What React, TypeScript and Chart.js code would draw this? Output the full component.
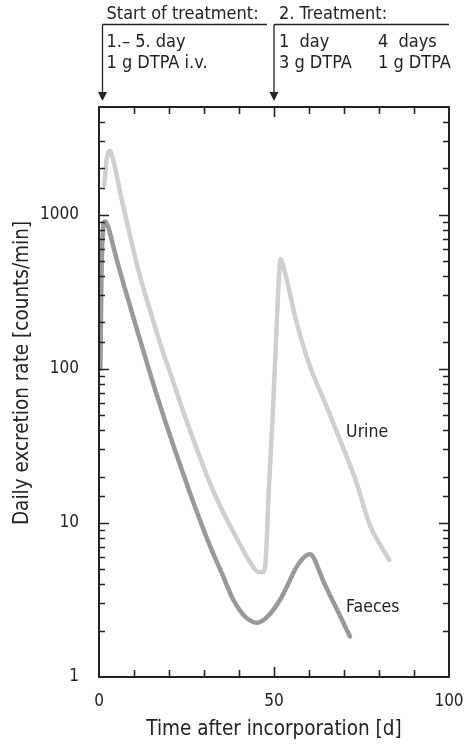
import React, { useEffect, useRef } from "react";
import { Chart, registerables } from "chart.js";

Chart.register(...registerables);

// Urine excretion rate (counts/min) vs time (days)
const urineDays = [1.5, 2.2, 3.1, 4.09, 6.49, 9.0, 11.71, 14.57, 17.43, 21.0, 24.57, 28.0, 31.7, 35.5, 39.3, 43.1, 45.5, 46.8, 47.5, 48.5, 49.6, 50.6, 51.2, 51.9, 52.7, 56.5, 60.3, 65.06, 68.86, 73.63, 77.43, 80.2, 82.94];
const urineRate = [1550, 2300, 2600, 2250, 1250, 705, 398, 240, 147, 85, 49, 30, 18.1, 11.7, 8.0, 5.6, 4.8, 4.8, 5.3, 16, 49, 155, 320, 515, 460, 198, 103.5, 56.9, 34.6, 18.1, 9.6, 7.3, 5.75];

// Faeces excretion rate (counts/min) vs time (days)
const faecesDays = [0.4, 0.7, 1.2, 1.7, 2.4, 3.14, 4.57, 6.95, 11.7, 16.0, 20.0, 24.1, 27.5, 31.7, 35.0, 38.4, 41.0, 43.0, 45.0, 48.0, 51.7, 54.0, 56.5, 59.0, 60.3, 61.3, 62.3, 64.1, 67.9, 71.7];
const faecesRate = [100, 400, 820, 905, 860, 760, 564, 360, 155, 73.6, 38.6, 20.7, 12.6, 7.1, 4.77, 3.16, 2.57, 2.34, 2.25, 2.45, 3.16, 4.0, 5.2, 6.1, 6.25, 5.95, 5.3, 4.19, 2.77, 1.83];

const xTickLabels = [0, 50, 100];
const yTickLabels = [1, 10, 100, 1000];

const FONT = "'Liberation Sans Narrow', 'DejaVu Sans Condensed', 'Liberation Sans', sans-serif";
const INK = "#222";

const decorPlugin = {
  id: "decor",
  afterDraw(chart: any) {
    const { ctx, chartArea: a, scales } = chart;
    const xs = scales.x;
    const ys = scales.y;
    ctx.save();
    // frame
    ctx.strokeStyle = INK;
    ctx.lineWidth = 2;
    ctx.strokeRect(a.left, a.top, a.right - a.left, a.bottom - a.top);
    // x ticks (inward, top & bottom)
    ctx.lineWidth = 1.6;
    xs.ticks.forEach((t: any) => {
      const v = t.value;
      if (v <= 0 || v >= 100) return;
      const px = Math.round(xs.getPixelForValue(v)) + 0.5;
      const len = v % 50 === 0 ? 10 : 7;
      ctx.beginPath();
      ctx.moveTo(px, a.bottom);
      ctx.lineTo(px, a.bottom - len);
      ctx.moveTo(px, a.top);
      ctx.lineTo(px, a.top + len);
      ctx.stroke();
    });
    // y ticks (inward, left & right)
    ys.ticks.forEach((t: any) => {
      const v = t.value;
      if (v <= 1 || v >= 5000) return;
      const lg = Math.log10(v);
      const decade = Math.abs(lg - Math.round(lg)) < 1e-6;
      const py = Math.round(ys.getPixelForValue(v)) + 0.5;
      const len = decade ? 10 : 6;
      ctx.beginPath();
      ctx.moveTo(a.left, py);
      ctx.lineTo(a.left + len, py);
      ctx.moveTo(a.right, py);
      ctx.lineTo(a.right - len, py);
      ctx.stroke();
    });

    // y axis title
    ctx.fillStyle = INK;
    ctx.save();
    ctx.translate(23, (a.top + a.bottom) / 2 - 19);
    ctx.rotate(-Math.PI / 2);
    ctx.font = `20.5px ${FONT}`;
    ctx.textAlign = "center";
    ctx.textBaseline = "middle";
    ctx.fillText("Daily excretion rate [counts/min]", 0, 0);
    ctx.restore();

    // treatment annotations
    const x1 = xs.getPixelForValue(1);
    const x2 = xs.getPixelForValue(50);
    const lineY = 24.5;
    ctx.lineWidth = 1.3;
    ctx.beginPath();
    ctx.moveTo(x1, lineY);
    ctx.lineTo(267, lineY);
    ctx.moveTo(x1, lineY);
    ctx.lineTo(x1, 94);
    ctx.moveTo(x2, lineY);
    ctx.lineTo(a.right, lineY);
    ctx.moveTo(x2, lineY);
    ctx.lineTo(x2, 94);
    ctx.stroke();
    [x1, x2].forEach((x) => {
      ctx.beginPath();
      ctx.moveTo(x - 4.5, 92);
      ctx.lineTo(x + 4.5, 92);
      ctx.lineTo(x, 101);
      ctx.closePath();
      ctx.fill();
    });
    ctx.font = `18px ${FONT}`;
    ctx.textAlign = "left";
    ctx.textBaseline = "alphabetic";
    ctx.fillText("Start of treatment:", x1 + 4, 19);
    ctx.fillText("1.\u2013 5. day", x1 + 4, 47);
    ctx.fillText("1 g DTPA i.v.", x1 + 4, 68);
    ctx.fillText("2. Treatment:", x2 + 5, 19);
    ctx.fillText("1  day", x2 + 5, 47);
    ctx.fillText("3 g DTPA", x2 + 5, 68);
    ctx.fillText("4  days", x2 + 104, 47);
    ctx.fillText("1 g DTPA", x2 + 104, 68);

    // series labels
    ctx.font = `17.5px ${FONT}`;
    ctx.fillText("Urine", xs.getPixelForValue(70.6), 437);
    ctx.fillText("Faeces", xs.getPixelForValue(70.6), 612);
    ctx.restore();
  },
};

export default function App() {
  const ref = useRef<HTMLCanvasElement | null>(null);
  useEffect(() => {
    if (!ref.current) return;
    const chart = new Chart(ref.current, {
      type: "line",
      data: {
        datasets: [
          {
            label: "Urine",
            data: urineDays.map((d, i) => ({ x: d, y: urineRate[i] })),
            borderColor: "#cfcfcf",
            borderWidth: 4.5,
            pointRadius: 0,
            cubicInterpolationMode: "monotone",
            borderCapStyle: "round",
            borderJoinStyle: "round",
            fill: false,
          },
          {
            label: "Faeces",
            data: faecesDays.map((d, i) => ({ x: d, y: faecesRate[i] })),
            borderColor: "#999999",
            borderWidth: 4.5,
            pointRadius: 0,
            cubicInterpolationMode: "monotone",
            borderCapStyle: "round",
            borderJoinStyle: "round",
            fill: false,
          },
        ],
      },
      options: {
        animation: false,
        responsive: false,
        devicePixelRatio: 1,
        layout: { padding: { top: 107, right: 22, left: 0, bottom: 0 } },
        plugins: { legend: { display: false }, tooltip: { enabled: false } },
        scales: {
          x: {
            type: "linear",
            min: 0,
            max: 100,
            grid: { display: false },
            border: { display: false },
            ticks: {
              stepSize: 10,
              autoSkip: false,
              maxRotation: 0,
              padding: 6,
              color: INK,
              font: { family: FONT, size: 17 },
              callback: (v: any) => (xTickLabels.includes(Number(v)) ? String(v) : ""),
            },
            title: {
              display: true,
              text: "Time after incorporation [d]",
              color: INK,
              font: { family: FONT, size: 20.5 },
              padding: { top: 0, bottom: 3 },
            },
            afterFit: (s: any) => {
              s.height = 68;
              s.paddingLeft = 0;
              s.paddingRight = 0;
            },
          },
          y: {
            type: "logarithmic",
            min: 1,
            max: 5000,
            grid: { display: false },
            border: { display: false },
            ticks: {
              autoSkip: false,
              padding: 12,
              color: INK,
              font: { family: FONT, size: 17 },
              callback: (v: any) => {
                const n = Number(v);
                return yTickLabels.some((t) => Math.abs(t - n) < 1e-6) ? String(n) : "";
              },
            },
            afterFit: (s: any) => {
              s.width = 99;
              s.paddingTop = 0;
              s.paddingBottom = 0;
            },
          },
        },
      },
      plugins: [decorPlugin],
    });
    return () => chart.destroy();
  }, []);
  return (
    <div style={{ position: "fixed", left: 0, top: 0, width: 471, height: 745, background: "#fff" }}>
      <canvas ref={ref} width={471} height={745} style={{ width: 471, height: 745, display: "block" }} />
    </div>
  );
}
